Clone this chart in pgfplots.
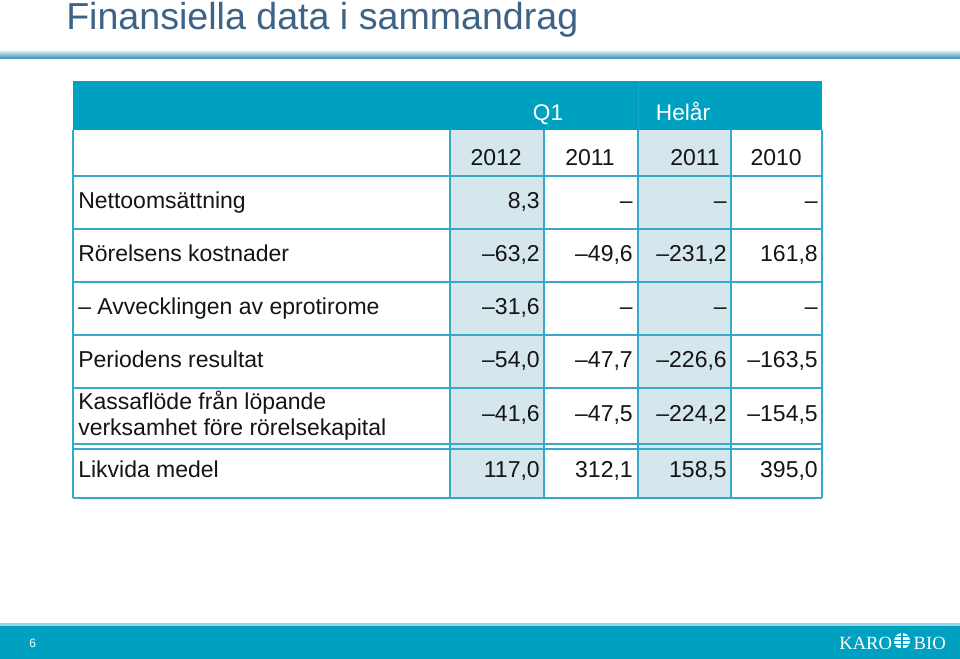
\documentclass[border=0pt]{standalone}
\usepackage{pgfplots}
\pgfplotsset{compat=1.18}
\usepackage{pgfplotstable}
\usepackage{fontspec}
\setmainfont{Liberation Sans}
\newfontfamily\serifont{Liberation Serif}
\definecolor{titleblue}{RGB}{62,99,136}
\definecolor{headteal}{RGB}{0,160,192}
\definecolor{headline}{RGB}{22,170,200}
\definecolor{colshade}{RGB}{213,230,237}
\definecolor{gridteal}{RGB}{52,170,200}
\definecolor{txt}{RGB}{20,20,20}
\definecolor{bandtop}{RGB}{215,236,243}
\definecolor{bandbot}{RGB}{40,140,170}
\definecolor{footlight}{RGB}{150,215,230}

\pgfplotstableread{
x y lab
540 201 8,3
633 201 –
727 201 –
818 201 –
540 254 –63,2
633 254 –49,6
727 254 –231,2
818 254 161,8
540 307 –31,6
633 307 –
727 307 –
818 307 –
540 360 –54,0
633 360 –47,7
727 360 –226,6
818 360 –163,5
540 414 –41,6
633 414 –47,5
727 414 –224,2
818 414 –154,5
540 470 117,0
633 470 312,1
727 470 158,5
818 470 395,0
}\values

\pgfplotstableread{
x y lab
522 158 2012
615 158 2011
720 158 2011
802 158 2010
}\years

\begin{document}
\begin{tikzpicture}
\begin{axis}[scale only axis, width=720pt, height=494.25pt,
  xmin=0, xmax=960, ymin=0, ymax=659, y dir=reverse,
  hide axis, clip=false]
% background
\fill[white] (0,0) rectangle (960,659);
% title
\node[anchor=base west, inner sep=0pt, font=\fontsize{28.2}{32}\selectfont, text=titleblue] at (66,30) {Finansiella data i sammandrag};
\shade[top color=bandtop, bottom color=bandbot] (0,51) rectangle (960,59);
% header
\fill[headteal] (73,81) rectangle (822,130);
\draw[line width=0.5pt, headline] (638,81) -- (638,130);
% shaded columns
\fill[colshade] (450,130) rectangle (544,498);
\fill[colshade] (638,130) rectangle (731,498);
% grid
\pgfplotsinvokeforeach{176,229,282,335,388,444,449,498}{\draw[line width=1.1pt, gridteal] (73,#1) -- (822,#1);}
\pgfplotsinvokeforeach{73,450,544,638,731,822}{\draw[line width=1.1pt, gridteal] (#1,130) -- (#1,498);}
% header texts
\node[anchor=base, inner sep=0pt, font=\fontsize{17}{20}\selectfont, text=white] at (548,121) {Q1};
\node[anchor=base, inner sep=0pt, font=\fontsize{17}{20}\selectfont, text=white] at (683,121) {Helår};
% row labels
\node[anchor=base west, inner sep=0pt, font=\fontsize{17.25}{20}\selectfont, text=txt] at (78,208.5) {Nettoomsättning};
\node[anchor=base west, inner sep=0pt, font=\fontsize{17.25}{20}\selectfont, text=txt] at (78,261.5) {Rörelsens kostnader};
\node[anchor=base west, inner sep=0pt, font=\fontsize{17.25}{20}\selectfont, text=txt] at (78,314.5) {– Avvecklingen av eprotirome};
\node[anchor=base west, inner sep=0pt, font=\fontsize{17.25}{20}\selectfont, text=txt] at (78,367.5) {Periodens resultat};
\node[anchor=base west, inner sep=0pt, font=\fontsize{17.25}{20}\selectfont, text=txt] at (78,409.5) {Kassaflöde från löpande};
\node[anchor=base west, inner sep=0pt, font=\fontsize{17.25}{20}\selectfont, text=txt] at (78,435.5) {verksamhet före rörelsekapital};
\node[anchor=base west, inner sep=0pt, font=\fontsize{17.25}{20}\selectfont, text=txt] at (78,477.5) {Likvida medel};
% values
\addplot[only marks, mark=none, point meta=explicit symbolic, nodes near coords,
  every node near coord/.append style={anchor=base east, yshift=-5.6pt, inner sep=0pt, font=\fontsize{17.25}{20}\selectfont, text=txt}]
  table[x=x, y=y, meta=lab]{\years};
\addplot[only marks, mark=none, point meta=explicit symbolic, nodes near coords,
  every node near coord/.append style={anchor=base east, yshift=-5.6pt, inner sep=0pt, font=\fontsize{17.25}{20}\selectfont, text=txt}]
  table[x=x, y=y, meta=lab]{\values};
% footer
\fill[footlight] (0,623) rectangle (960,626);
\fill[headteal] (0,626) rectangle (960,659);
\node[anchor=west, inner sep=0pt, font=\fontsize{9}{10}\selectfont, text=white] at (29,643) {6};
\node[anchor=base west, inner sep=0pt, font=\serifont\fontsize{14}{16}\selectfont, text=white] at (839,649) {KARO};
\node[anchor=base east, inner sep=0pt, font=\serifont\fontsize{14}{16}\selectfont, text=white] at (946,649) {BIO};
\fill[white] (902,641) circle[radius=6pt];
\pgfplotsinvokeforeach{636,640,644,648}{\draw[headteal, line width=0.7pt] (893,#1) -- (911,#1);}
\draw[headteal, line width=0.8pt] (902,633) -- (902,649);
\end{axis}
\end{tikzpicture}
\end{document}
